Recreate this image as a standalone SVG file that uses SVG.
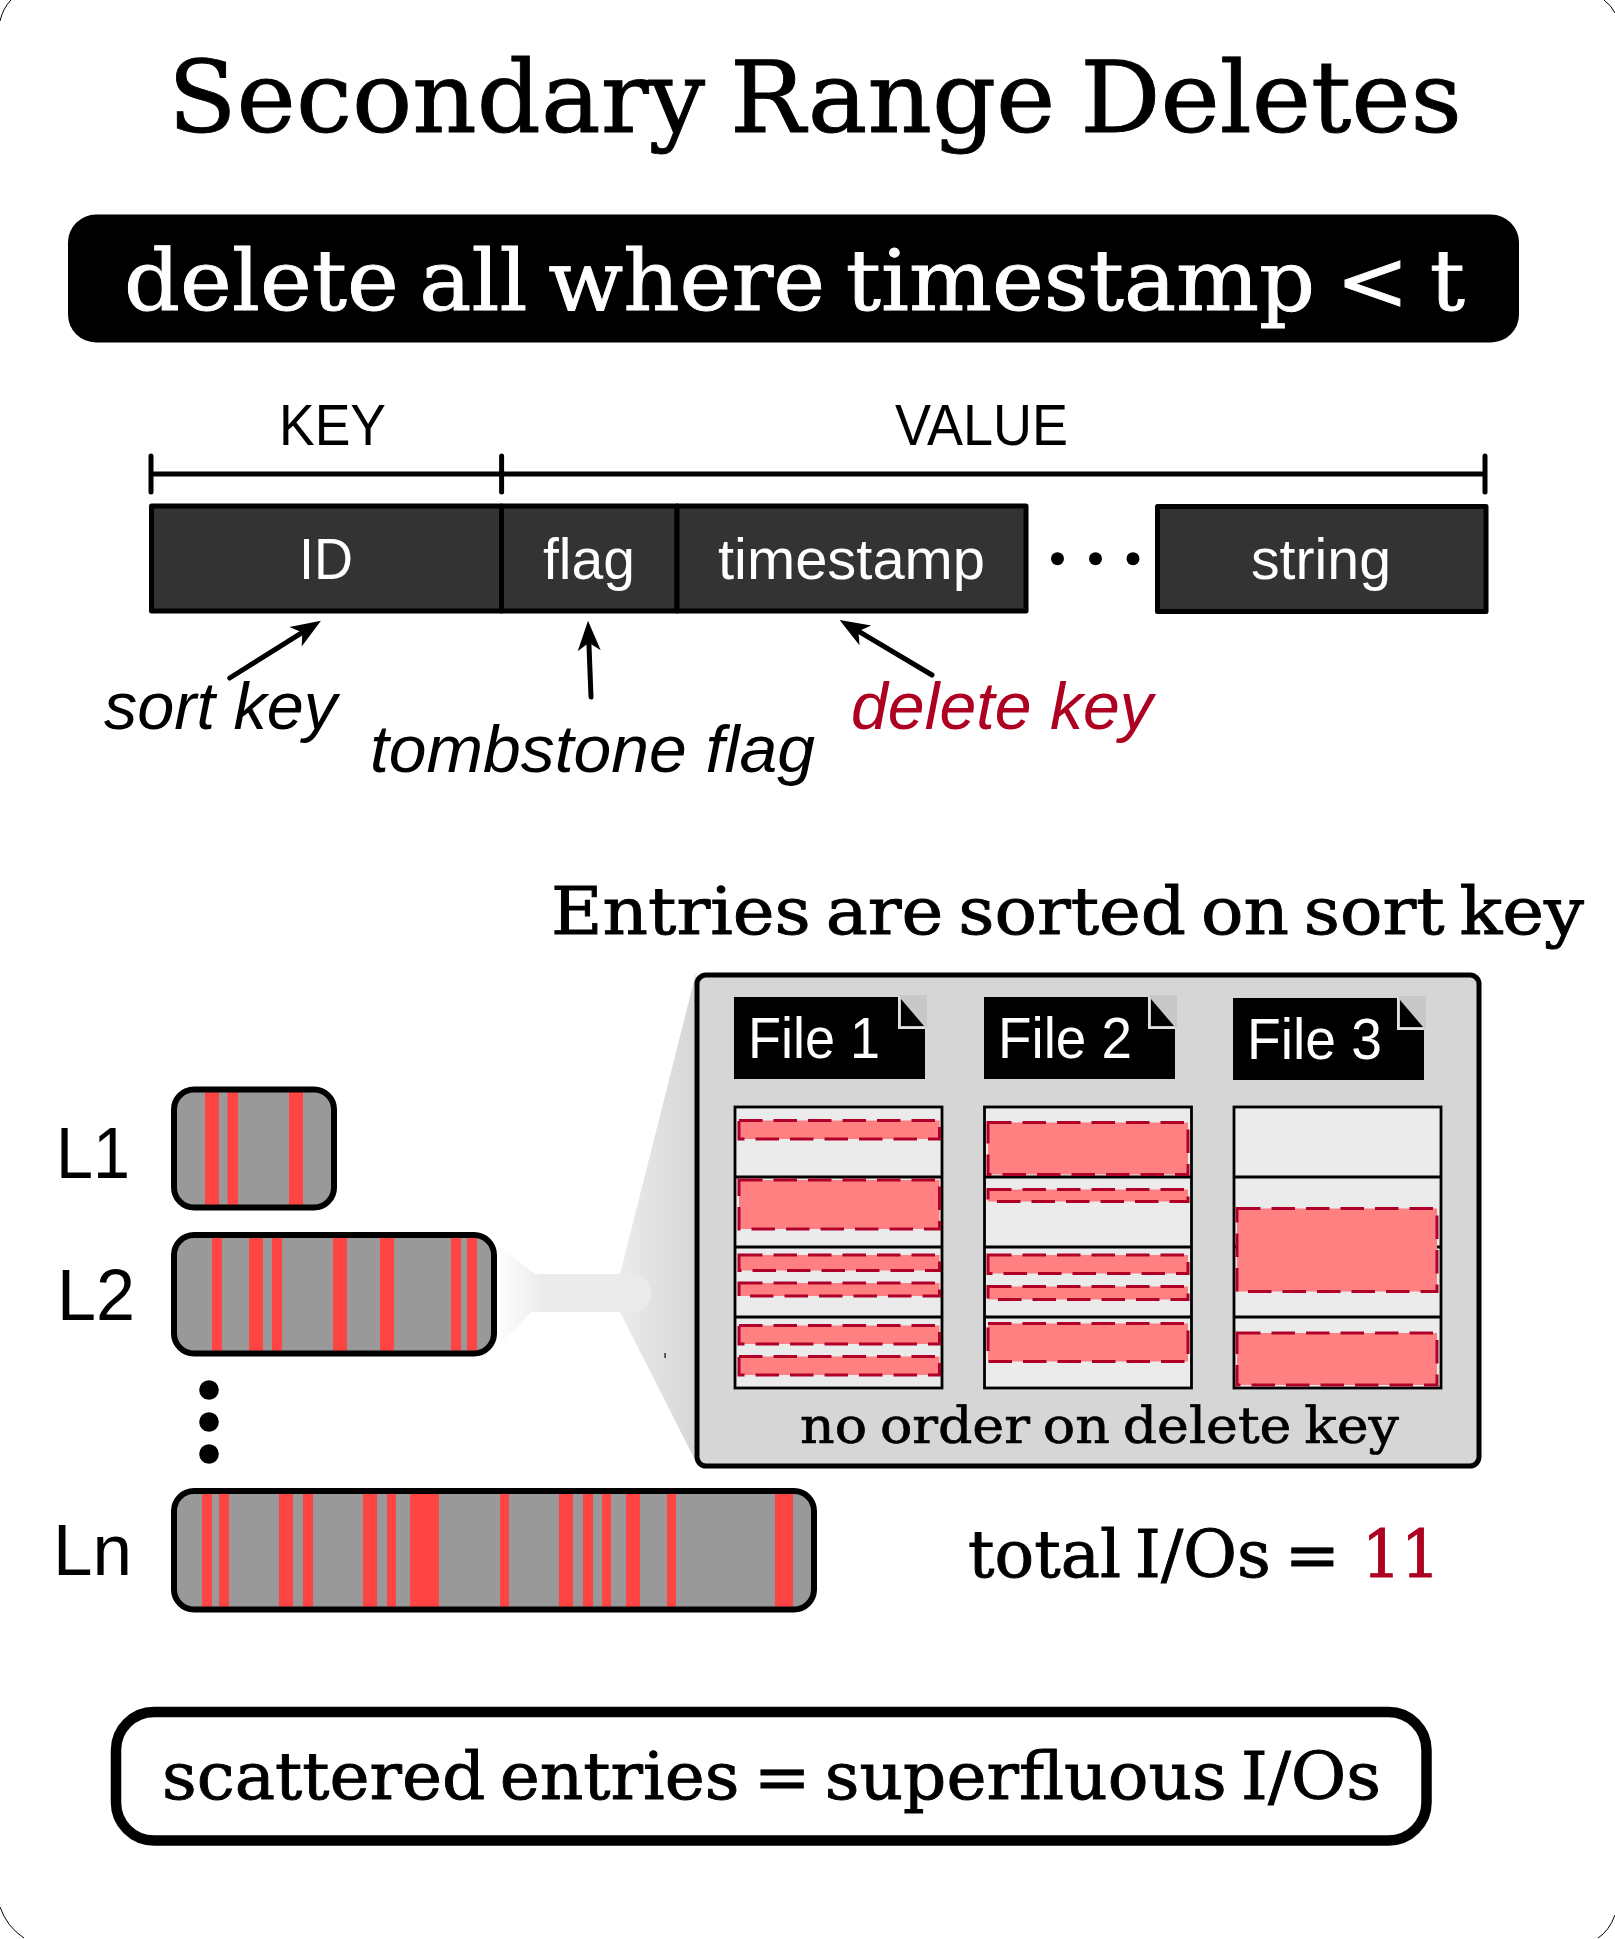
<svg xmlns="http://www.w3.org/2000/svg" xmlns:xlink="http://www.w3.org/1999/xlink" width="1615" height="1939" viewBox="0 0 1615 1939">
<style>
.slab{font-family:"DejaVu Serif","Liberation Serif",serif;fill:#000;stroke:#000;stroke-width:.9;word-spacing:-7px}
.slab.wht{fill:#fff;stroke:#fff}
.slab.red{fill:#ae0021;stroke:#ae0021}
.sans{font-family:"Liberation Sans",Arial,sans-serif;fill:#000}
.lbl{font-size:57px}
.wht{fill:#fff}
.lvl{font-size:72px}
.ital{font-size:67px;font-style:italic}
.red{fill:#ae0021}
.cell{fill:#333;stroke:#000;stroke-width:5;stroke-linejoin:round}
.lev{fill:none;stroke:#000;stroke-width:6}
.levf{fill:#999}
.bar{fill:#ff4444}
.page{fill:#ebebeb;stroke:#000;stroke-width:2.8}
.rline{stroke:#000;stroke-width:3}
.del{fill:#ff8080;stroke:#b0002a;stroke-width:3;stroke-dasharray:23.5 11}
.br{stroke:#000;stroke-width:5;stroke-linecap:round;fill:none}
.arr{stroke:#000;stroke-width:5;stroke-linecap:round;fill:none;marker-end:url(#head)}
.corner{fill:none;stroke:#000;stroke-width:1}
</style>
<defs>
<marker id="head" markerUnits="userSpaceOnUse" markerWidth="40" markerHeight="40" refX="18" refY="20" orient="auto" overflow="visible">
<path d="M30 20 L0 8.500 L8 20 L0 31.500 Z" fill="#000"/>
</marker>
<linearGradient id="fadeL" gradientUnits="userSpaceOnUse" x1="496" y1="0" x2="545" y2="0"><stop offset="0" stop-color="#fff"/><stop offset="1" stop-color="#ebebeb"/></linearGradient>
<linearGradient id="fadeR" gradientUnits="userSpaceOnUse" x1="620" y1="0" x2="696" y2="0"><stop offset="0" stop-color="#ebebeb"/><stop offset="1" stop-color="#d6d6d6"/></linearGradient>
<g id="fileIcon">
<rect x="0" y="0" width="191" height="82" fill="#000"/>
<rect x="164" y="-2" width="29" height="33" fill="#c8c8c8"/>
<path d="M165 -1 V31 H191" fill="none" stroke="#e0e0e0" stroke-width="2"/>
<path d="M167 2 V29 H190 Z" fill="#000"/>
</g>
</defs>
<rect width="1615" height="1939" fill="#fff"/>
<g id="frame">
<path class="corner" d="M0 21Q3 8 11 0M0 1907Q7 1927 24 1938M1604 0Q1611 5 1615 13M1598 1938Q1609 1931 1615 1915"/>
</g>
<g id="title"><text class="slab" x="168" y="132" font-size="100" textLength="1294" lengthAdjust="spacingAndGlyphs">Secondary Range Deletes</text></g>
<g id="query">
<rect x="68" y="214.500" width="1451" height="128" rx="28" fill="#000"/>
<text class="slab wht" x="124" y="310" font-size="85" textLength="1341" lengthAdjust="spacingAndGlyphs">delete all where timestamp &lt; t</text>
</g>
<g id="key-label"><text class="sans lbl" x="279" y="445" textLength="107" lengthAdjust="spacingAndGlyphs">KEY</text></g>
<g id="value-label"><text class="sans lbl" x="895" y="445" textLength="173" lengthAdjust="spacingAndGlyphs">VALUE</text></g>
<g id="id-cell"><rect class="cell" x="151.500" y="506" width="350" height="105"/><text class="sans lbl wht" x="299" y="579" textLength="54" lengthAdjust="spacingAndGlyphs">ID</text></g>
<g id="flag-cell"><rect class="cell" x="501.500" y="506" width="175.500" height="105"/><text class="sans lbl wht" x="543" y="579" textLength="92" lengthAdjust="spacingAndGlyphs">flag</text></g>
<g id="timestamp-cell"><rect class="cell" x="677" y="506" width="349" height="105"/><text class="sans lbl wht" x="718" y="579" textLength="267" lengthAdjust="spacingAndGlyphs">timestamp</text></g>
<g id="ellipsis"><circle cx="1057.500" cy="558.700" r="6.500"/><circle cx="1095.500" cy="558.700" r="6.500"/><circle cx="1133" cy="558.700" r="6.500"/></g>
<g id="string-cell"><rect class="cell" x="1157.500" y="506.500" width="328.500" height="105"/><text class="sans lbl wht" x="1251" y="579" textLength="140" lengthAdjust="spacingAndGlyphs">string</text></g>
<g id="connectors">
<path class="br" d="M151 456V492M151 474H1485M501.600 456V492M1485 456V492"/>
<line class="arr" x1="229.700" y1="678" x2="310.800" y2="627.100"/>
<line class="arr" x1="591" y1="697" x2="588.500" y2="632.700"/>
<line class="arr" x1="932" y1="675" x2="849.900" y2="626.100"/>
</g>
<g id="sort-key"><text class="sans ital" x="104" y="729" textLength="233" lengthAdjust="spacingAndGlyphs">sort key</text></g>
<g id="tombstone-flag"><text class="sans ital" x="370" y="772" textLength="445" lengthAdjust="spacingAndGlyphs">tombstone flag</text></g>
<g id="delete-key"><text class="sans ital red" x="851" y="729" textLength="302" lengthAdjust="spacingAndGlyphs">delete key</text></g>
<g id="entries-label"><text class="slab" x="551" y="934" font-size="65" textLength="1033" lengthAdjust="spacingAndGlyphs">Entries are sorted on sort key</text></g>
<g id="zoom-funnel">
<path d="M496 1243L535 1274H545V1312H531L500 1345H496Z" fill="url(#fadeL)"/>
<path d="M620 1274L696 973V1462L620 1312Z" fill="url(#fadeR)"/>
<path d="M540 1274H632a19 19 0 0 1 0 38H540Z" fill="#ebebeb"/>
<rect x="664.500" y="1353" width="1.200" height="5" fill="#000"/>
</g>
<g id="L1">
<text class="sans lvl" x="56" y="1178" textLength="74" lengthAdjust="spacingAndGlyphs">L1</text>
<rect class="levf" x="174" y="1089.500" width="160" height="118" rx="20"/>
<rect class="bar" x="205" y="1091" width="14" height="115"/><rect class="bar" x="227.400" y="1091" width="10.600" height="115"/><rect class="bar" x="289" y="1091" width="14" height="115"/>
<rect class="lev" x="174" y="1089.500" width="160" height="118" rx="20"/>
</g>
<g id="L2">
<text class="sans lvl" x="57" y="1320" textLength="78" lengthAdjust="spacingAndGlyphs">L2</text>
<rect class="levf" x="174" y="1235" width="320" height="118.500" rx="20"/>
<rect class="bar" x="212" y="1236" width="10" height="116"/><rect class="bar" x="249" y="1236" width="14" height="116"/><rect class="bar" x="272" y="1236" width="10" height="116"/><rect class="bar" x="333" y="1236" width="14" height="116"/><rect class="bar" x="380" y="1236" width="14" height="116"/><rect class="bar" x="451" y="1236" width="10" height="116"/><rect class="bar" x="467" y="1236" width="10" height="116"/>
<rect class="lev" x="174" y="1235" width="320" height="118.500" rx="20"/>
</g>
<g id="level-dots"><circle cx="209" cy="1390" r="9.800"/><circle cx="209" cy="1422" r="9.800"/><circle cx="209" cy="1454" r="9.800"/></g>
<g id="Ln">
<text class="sans lvl" x="53" y="1575" textLength="79" lengthAdjust="spacingAndGlyphs">Ln</text>
<rect class="levf" x="174" y="1491" width="640" height="118.500" rx="20"/>
<rect class="bar" x="202" y="1492" width="10" height="116"/><rect class="bar" x="219" y="1492" width="10" height="116"/><rect class="bar" x="279" y="1492" width="14" height="116"/><rect class="bar" x="303" y="1492" width="10" height="116"/><rect class="bar" x="363" y="1492" width="14" height="116"/><rect class="bar" x="387" y="1492" width="9" height="116"/><rect class="bar" x="410" y="1492" width="29" height="116"/><rect class="bar" x="500" y="1492" width="9" height="116"/><rect class="bar" x="559" y="1492" width="14" height="116"/><rect class="bar" x="583" y="1492" width="10" height="116"/><rect class="bar" x="602" y="1492" width="9" height="116"/><rect class="bar" x="626" y="1492" width="14" height="116"/><rect class="bar" x="667" y="1492" width="9" height="116"/><rect class="bar" x="775" y="1492" width="18" height="116"/>
<rect class="lev" x="174" y="1491" width="640" height="118.500" rx="20"/>
</g>
<g id="zoom-panel">
<rect x="697" y="975" width="782" height="491" rx="9" fill="#d6d6d6" stroke="#000" stroke-width="5"/>
<text class="slab" x="800" y="1443" font-size="51" textLength="599" lengthAdjust="spacingAndGlyphs" style="stroke-width:.7;word-spacing:-4px">no order on delete key</text>
</g>
<g id="file-1">
<use xlink:href="#fileIcon" href="#fileIcon" x="734" y="997"/>
<text class="sans wht" x="748" y="1058" font-size="57" textLength="132" lengthAdjust="spacingAndGlyphs">File 1</text>
<rect class="page" x="735" y="1107" width="207" height="281"/>
<path class="rline" d="M735 1177H942M735 1247H942M735 1317H942"/>
<rect class="del" x="739" y="1120.500" width="200.500" height="18.500"/><rect class="del" x="739" y="1180" width="200.500" height="49"/><rect class="del" x="739" y="1255" width="200.500" height="15.500"/><rect class="del" x="739" y="1283" width="200.500" height="13"/><rect class="del" x="739" y="1325.500" width="200.500" height="18.500"/><rect class="del" x="739" y="1356.500" width="200.500" height="18.500"/>
</g>
<g id="file-2">
<use xlink:href="#fileIcon" href="#fileIcon" x="984" y="997"/>
<text class="sans wht" x="998" y="1058" font-size="57" textLength="134" lengthAdjust="spacingAndGlyphs">File 2</text>
<rect class="page" x="984.500" y="1107" width="207" height="281"/>
<path class="rline" d="M984.500 1177H1191.500M984.500 1247H1191.500M984.500 1317H1191.500"/>
<rect class="del" x="988" y="1122.500" width="200" height="52"/><rect class="del" x="988" y="1189.500" width="200" height="12"/><rect class="del" x="988" y="1255" width="200" height="18.500"/><rect class="del" x="988" y="1286.500" width="200" height="13"/><rect class="del" x="988" y="1323.500" width="200" height="38"/>
</g>
<g id="file-3">
<use xlink:href="#fileIcon" href="#fileIcon" x="1233" y="998"/>
<text class="sans wht" x="1247" y="1059" font-size="57" textLength="135" lengthAdjust="spacingAndGlyphs">File 3</text>
<rect class="page" x="1234" y="1107" width="207" height="281"/>
<path class="rline" d="M1234 1177H1441M1234 1247H1441M1234 1317H1441"/>
<rect class="del" x="1237" y="1208.500" width="200" height="83"/><rect class="del" x="1237" y="1333" width="200" height="52"/>
</g>
<g id="total-ios">
<text class="slab" x="968" y="1577" font-size="65" textLength="372" lengthAdjust="spacingAndGlyphs">total I/Os =</text>
<text class="slab red" x="1362" y="1577" font-size="65" textLength="78" lengthAdjust="spacingAndGlyphs">11</text>
</g>
<g id="conclusion">
<rect x="116" y="1712" width="1310.500" height="128.500" rx="38" fill="#fff" stroke="#000" stroke-width="10.500"/>
<text class="slab" x="162" y="1799" font-size="65" textLength="1219" lengthAdjust="spacingAndGlyphs">scattered entries = superfluous I/Os</text>
</g>
</svg>
